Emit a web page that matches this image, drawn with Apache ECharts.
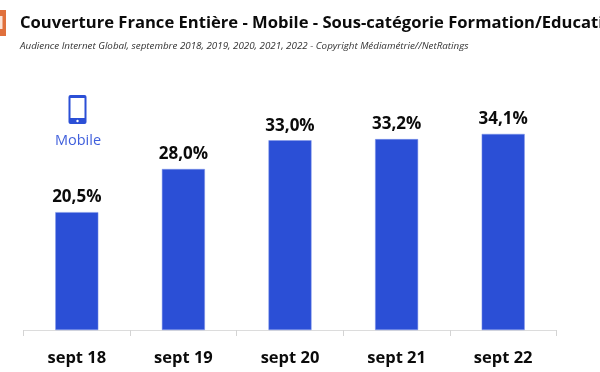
<!DOCTYPE html>
<html>
<head>
<meta charset="utf-8">
<style>html,body{margin:0;padding:0;background:#fff;overflow:hidden}#c{width:600px;height:372px}</style>
<script src="https://cdn.jsdelivr.net/npm/echarts@6/dist/echarts.min.js"></script>
</head>
<body>
<div id="c"></div>
<script>
const categories = ['sept 18', 'sept 19', 'sept 20', 'sept 21', 'sept 22'];
const values = [20.5, 28.0, 33.0, 33.2, 34.1];
const titleText = 'Couverture France Entière - Mobile - Sous-catégorie Formation/Education';
const subtitleText = 'Audience Internet Global, septembre 2018, 2019, 2020, 2021, 2022 - Copyright Médiamétrie//NetRatings';
const iconLabel = 'Mobile';
const blue = '#2b4fd6';

const chart = echarts.init(document.getElementById('c'), null, {renderer: 'canvas'});
chart.setOption({
  animation: false,
  backgroundColor: '#fff',
  grid: {left: 23.5, right: 43.5, top: 100, bottom: 42, containLabel: false},
  xAxis: {
    type: 'category', data: categories,
    axisLine: {lineStyle: {color: '#dcdcdc', width: 1}},
    axisTick: {show: true, length: 6, lineStyle: {color: '#d4d4d4'}},
    axisLabel: {color: '#0b0b0b', fontFamily: 'Open Sans', fontWeight: 'bold', fontSize: 16.5, margin: 20}
  },
  yAxis: {type: 'value', min: 0, max: 40, show: false},
  series: [{
    type: 'bar', data: values, barWidth: 43,
    itemStyle: {color: blue, borderColor: '#7f95e8', borderWidth: 0.5},
    label: {
      show: true, position: 'top', distance: 6, color: '#0b0b0b',
      fontFamily: 'Open Sans', fontWeight: 'bold', fontSize: 17,
      formatter: p => p.value.toFixed(1).replace('.', ',') + '%'
    }
  }],
  graphic: [
    {type: 'text', left: 20, top: 15, style: {text: titleText, fill: '#0b0b0b', font: 'bold 16.6px "Open Sans"'}},
    {type: 'text', left: 20, top: 41, style: {text: subtitleText, fill: '#333', font: 'italic 9.8px "Open Sans"'}},
    {type: 'rect', shape: {x: 0, y: 10, width: 6, height: 26}, style: {fill: '#e0703c'}},
    {type: 'rect', shape: {x: 0, y: 16, width: 2.5, height: 13}, style: {fill: '#fbe3d6'}},
    {type: 'rect', shape: {x: 68.5, y: 95, width: 18, height: 29, r: 2}, style: {fill: blue}},
    {type: 'rect', shape: {x: 70.5, y: 98, width: 14, height: 20}, style: {fill: '#fff'}},
    {type: 'circle', shape: {cx: 77.5, cy: 121, r: 1.2}, style: {fill: '#fff'}},
    {type: 'text', x: 78, y: 133, style: {text: iconLabel, fill: '#3f5fdc', font: '14.5px "Open Sans"', textAlign: 'center'}}
  ]
});
</script>
</body>
</html>
